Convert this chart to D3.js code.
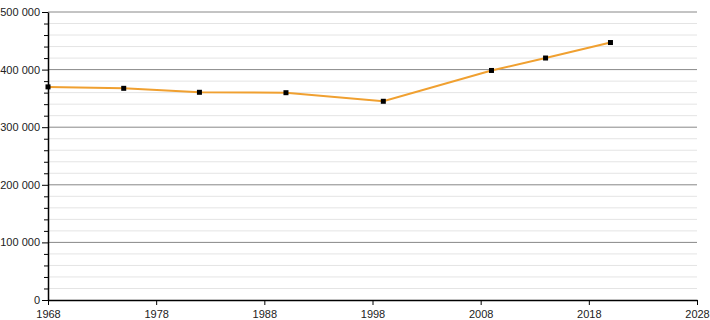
<!DOCTYPE html>
<html>
<head>
<meta charset="utf-8">
<script src="https://cdn.jsdelivr.net/npm/d3@7"></script>
<style>
  body { margin: 0; background: #fff; }
  text { font-family: "Liberation Sans", Arial, sans-serif; }
</style>
</head>
<body>
<svg width="710" height="320"></svg>
<script>
// population by census year
const years = [1968, 1975, 1982, 1990, 1999, 2009, 2014, 2020];
const population = [370000, 367500, 360600, 359900, 345000, 398500, 420100, 447000];
const xTicks = [1968, 1978, 1988, 1998, 2008, 2018, 2028];
const yTicks = [0, 100000, 200000, 300000, 400000, 500000];

var data = years.map((y, i) => ({ year: y, pop: population[i] }));

var svg = d3.select('svg');
var padding = { t: 12, r: 13, b: 20, l: 48 };
var chartWidth = 710 - padding.l - padding.r;
var chartHeight = 320 - padding.t - padding.b;

var chartG = svg.append('g')
  .attr('transform', `translate(${padding.l}, ${padding.t})`);

var xScale = d3.scaleLinear().domain([1968, 2028]).range([0, chartWidth]);
var yScale = d3.scaleLinear().domain([0, 500000]).range([chartHeight, 0]);

var fmt = v => d3.format(',')(v).replace(/,/g, ' ');

// minor grid every 20 000
var minor = d3.range(0, 500001, 20000).filter(v => v % 100000 !== 0);
chartG.selectAll('.minor')
  .data(minor)
  .enter().append('line')
  .attr('x1', 0).attr('x2', chartWidth)
  .attr('y1', d => yScale(d)).attr('y2', d => yScale(d))
  .attr('stroke', '#e4e4e4');

chartG.selectAll('.major')
  .data(yTicks.filter(v => v > 0))
  .enter().append('line')
  .attr('x1', 0).attr('x2', chartWidth)
  .attr('y1', d => yScale(d)).attr('y2', d => yScale(d))
  .attr('stroke', '#888');

// y axis with minor ticks
chartG.append('g')
  .call(d3.axisLeft(yScale).tickValues(minor).tickSize(4).tickFormat(''))
  .call(g => g.select('.domain').remove());
var yAxis = chartG.append('g')
  .call(d3.axisLeft(yScale).tickValues(yTicks).tickSize(6).tickFormat(fmt).tickSizeOuter(0));
yAxis.selectAll('text').attr('font-size', '11px').attr('fill', '#222').attr('x', -8);

var xAxis = chartG.append('g')
  .attr('transform', `translate(0, ${chartHeight})`)
  .call(d3.axisBottom(xScale).tickValues(xTicks).tickFormat(d3.format('d')).tickSize(5).tickSizeOuter(0));
xAxis.selectAll('text').attr('font-size', '11px').attr('fill', '#222').attr('dy', '0.9em');
xAxis.select('.domain').attr('stroke-width', 1.5);
yAxis.select('.domain').attr('stroke-width', 1.5);

var line = d3.line().x(d => xScale(d.year)).y(d => yScale(d.pop));
chartG.append('path')
  .datum(data)
  .attr('d', line)
  .attr('fill', 'none')
  .attr('stroke', '#f0a030')
  .attr('stroke-width', 2);

chartG.selectAll('.pt')
  .data(data)
  .enter().append('rect')
  .attr('x', d => xScale(d.year) - 2.5)
  .attr('y', d => yScale(d.pop) - 2.5)
  .attr('width', 5).attr('height', 5)
  .attr('fill', '#000');
</script>
</body>
</html>
